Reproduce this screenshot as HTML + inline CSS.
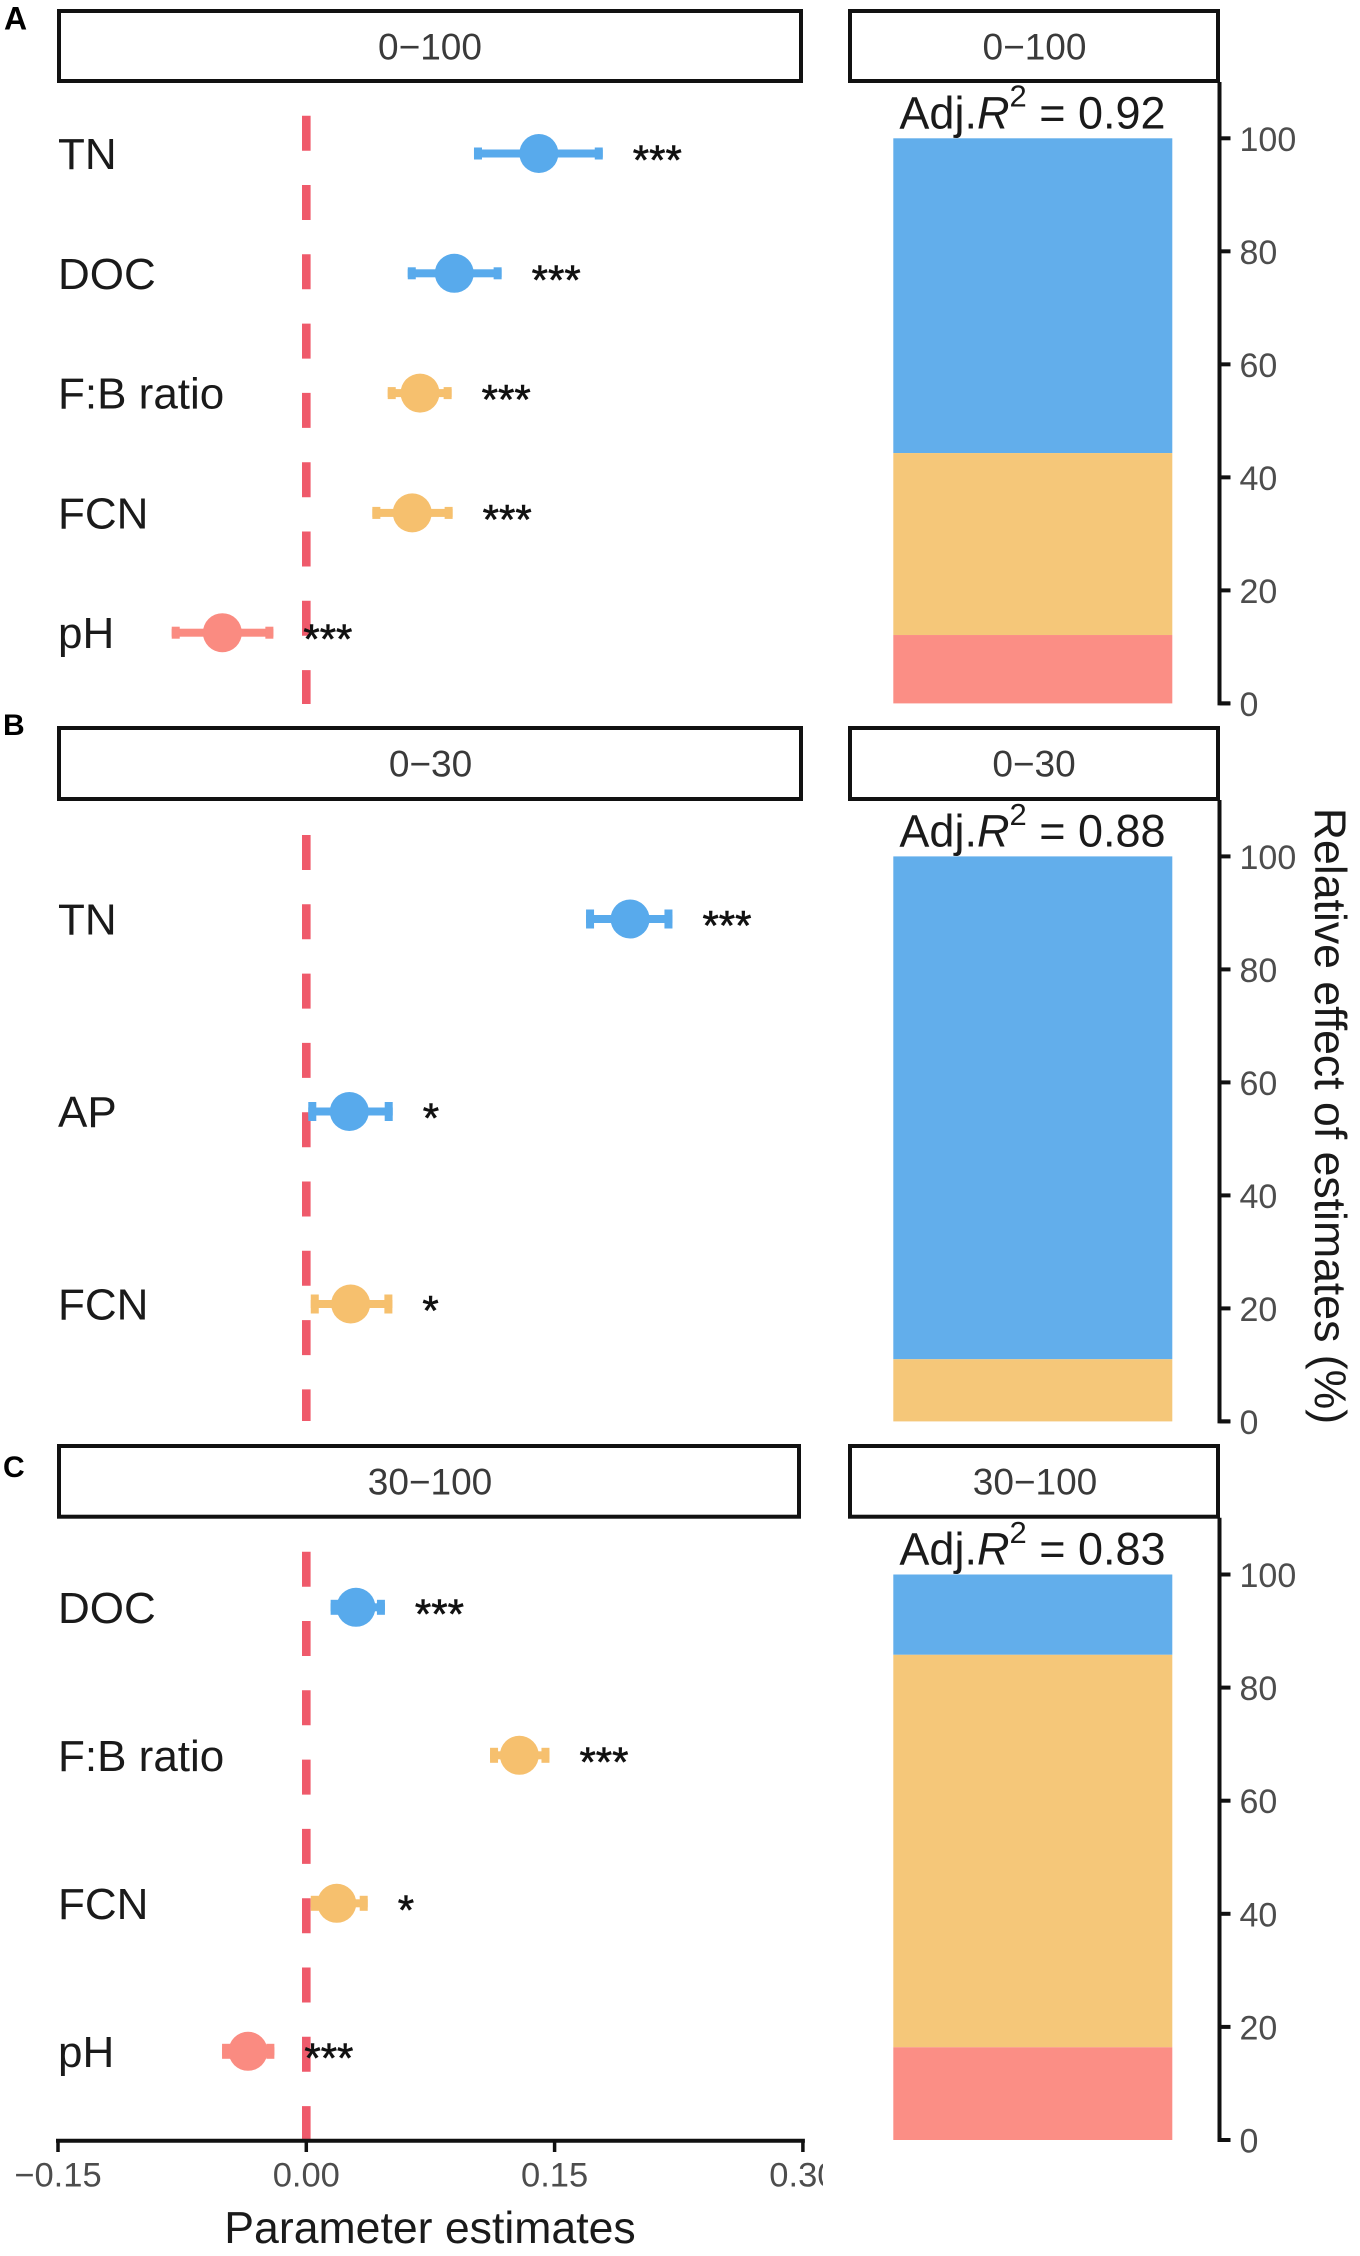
<!DOCTYPE html>
<html lang="en">
<head>
<meta charset="utf-8">
<title>Parameter estimates and relative effects by soil depth</title>
<style>
html,body{margin:0;padding:0;background:#fff;}
svg{display:block;font-family:"Liberation Sans",Arial,sans-serif;}
</style>
</head>
<body>
<svg id="chart" xmlns="http://www.w3.org/2000/svg" width="1360" height="2256" viewBox="0 0 1360 2256">
  <defs>
    <clipPath id="x-label-clip"><rect x="0" y="2140" width="823" height="116"/></clipPath>
    <clipPath id="cat-label-clip"><rect x="0" y="0" width="224" height="2256"/></clipPath>
  </defs>
  <rect x="0" y="0" width="1360" height="2256" fill="#ffffff"/>
  <text x="4" y="29.5" font-size="32" font-weight="700" fill="#000">A</text>
  <text x="3" y="735" font-size="30" font-weight="700" fill="#000">B</text>
  <text x="3" y="1477" font-size="30" font-weight="700" fill="#000">C</text>
  <text x="430" y="2243" font-size="44.6" text-anchor="middle" fill="#1a1a1a">Parameter estimates</text>
  <text transform="translate(1315 1116) rotate(90)" font-size="44.6" text-anchor="middle" fill="#1a1a1a">Relative effect of estimates (%)</text>
</svg>
<script>
// Panel A (0-100)
const panelACategories = ["TN", "DOC", "F:B ratio", "FCN", "pH"];
const panelAEstimates = [0.1405, 0.0894, 0.0687, 0.0640, -0.0507];
const panelALower = [0.1013, 0.0613, 0.0492, 0.0399, -0.0813];
const panelAUpper = [0.1791, 0.1180, 0.0878, 0.0884, -0.0199];
const panelAGroups = ["blue", "blue", "orange", "orange", "red"];
const panelASignif = ["***", "***", "***", "***", "***"];
const panelAStackGroups = ["blue", "orange", "red"];
const panelAStackValues = [55.7, 32.2, 12.1];

// Panel B (0-30)
const panelBCategories = ["TN", "AP", "FCN"];
const panelBEstimates = [0.1956, 0.0260, 0.0268];
const panelBLower = [0.1690, 0.0012, 0.0027];
const panelBUpper = [0.2212, 0.0522, 0.0520];
const panelBGroups = ["blue", "blue", "orange"];
const panelBSignif = ["***", "*", "*"];
const panelBStackGroups = ["blue", "orange"];
const panelBStackValues = [89.0, 11.0];

// Panel C (30-100)
const panelCCategories = ["DOC", "F:B ratio", "FCN", "pH"];
const panelCEstimates = [0.0300, 0.1287, 0.0184, -0.0352];
const panelCLower = [0.0147, 0.1110, 0.0027, -0.0509];
const panelCUpper = [0.0475, 0.1469, 0.0371, -0.0193];
const panelCGroups = ["blue", "orange", "orange", "red"];
const panelCSignif = ["***", "***", "*", "***"];
const panelCStackGroups = ["blue", "orange", "red"];
const panelCStackValues = [14.2, 69.4, 16.4];

// Shared axes
const xTickValues = [-0.15, 0, 0.15, 0.30];
const xTickLabels = ["\u22120.15", "0.00", "0.15", "0.30"];
const yTickValues = [0, 20, 40, 60, 80, 100];
const yTickLabels = ["0", "20", "40", "60", "80", "100"];

const NS = "http://www.w3.org/2000/svg";
const svg = document.getElementById("chart");
const pointColor = { blue: "#58aaec", orange: "#f6c06e", red: "#fa8b81" };
const barColor = { blue: "#62aeeb", orange: "#f5c779", red: "#fb8e85" };

function xScale(v) { return 306.3 + 1655.3 * v; }
function rowY(layout, i) { return layout.rowStart + layout.rowStep * i; }
function pctY(layout, p) { return layout.bar0 + (layout.bar100 - layout.bar0) * p / 100; }

function mk(tag, attrs, parent, text) {
  const el = document.createElementNS(NS, tag);
  for (const k in attrs) el.setAttribute(k, attrs[k]);
  if (text !== undefined) el.textContent = text;
  (parent || svg).appendChild(el);
  return el;
}

function drawStrip(layout, label, left, right, centre, key) {
  const box = mk("rect", { x: left, y: layout.stripTop, width: right - left, height: layout.stripBottom - layout.stripTop, fill: "#fff", stroke: "#111", "stroke-width": 4 });
  
  
  const t = mk("text", { x: centre, y: layout.stripTop + 48.5, "font-size": 37, "text-anchor": "middle", fill: "#3a3a3a" }, svg, label);
  
  
}

function drawForest(key, layout, categories, estimates, lower, upper, groups, signif) {
  const zero = mk("line", { x1: xScale(0), x2: xScale(0), y1: layout.dashTop, y2: layout.dashBottom, stroke: "#ef5a6b", "stroke-width": 8.6, "stroke-dasharray": "35 34.3" });
  
  
  categories.forEach(function (cat, i) {
    const y = rowY(layout, i);
    const color = pointColor[groups[i]];
    const label = mk("text", { x: 58, y: y + 15.5, "font-size": 44, fill: "#1a1a1a", "clip-path": "url(#cat-label-clip)" }, svg, cat);
    
    
    const bar = mk("rect", { x: xScale(lower[i]), y: y - 4, width: xScale(upper[i]) - xScale(lower[i]), height: 8, fill: color });
    
    
    const capL = mk("rect", { x: xScale(lower[i]), y: y - layout.cap / 2, width: 8, height: layout.cap, fill: color });
    
    
    const capU = mk("rect", { x: xScale(upper[i]) - 8, y: y - layout.cap / 2, width: 8, height: layout.cap, fill: color });
    
    
    const dot = mk("circle", { cx: xScale(estimates[i]), cy: y, r: 19.5, fill: color });
    
    
    const star = mk("text", { x: xScale(upper[i]) + 30, y: y + 21, "font-size": 42, fill: "#111", stroke: "#111", "stroke-width": 0.6 }, svg, signif[i]);
    
    
  });
}

function drawStack(key, layout, stackGroups, stackValues, r2) {
  let top = 100;
  stackGroups.forEach(function (g, i) {
    const bottom = top - stackValues[i];
    const seg = mk("rect", { x: 893.3, y: pctY(layout, top), width: 279, height: pctY(layout, bottom) - pctY(layout, top), fill: barColor[g] });
    
    
    top = bottom;
  });
  const axis = mk("path", { d: "M1219.5 " + (layout.stripBottom + 1) + " V" + pctY(layout, 0) + " H1230", fill: "none", stroke: "#111", "stroke-width": 4 });
  
  
  yTickValues.forEach(function (v, i) {
    const tick = mk("line", { x1: 1219.5, x2: 1230.5, y1: pctY(layout, v), y2: pctY(layout, v), stroke: "#111", "stroke-width": 4 });
    
    
    const lab = mk("text", { x: 1239.5, y: pctY(layout, v) + 12.5, "font-size": 34, fill: "#4d4d4d" }, svg, yTickLabels[i]);
    
    
  });
  const t = mk("text", { x: 1032.5, y: pctY(layout, 100) - 10, "font-size": 45, "text-anchor": "middle", fill: "#1a1a1a" });
  
  
  mk("tspan", {}, t, "Adj.");
  mk("tspan", { "font-style": "italic" }, t, "R");
  mk("tspan", { dy: -21.6, "font-size": 31 }, t, "2");
  mk("tspan", { dy: 21.6 }, t, " = " + r2);
}

const layoutA = { stripTop: 11, stripBottom: 81, dashTop: 115.7, dashBottom: 704, rowStart: 153.5, rowStep: 119.8, cap: 12, bar100: 138.3, bar0: 703.4 };
const layoutB = { stripTop: 728, stripBottom: 799, dashTop: 835, dashBottom: 1421, rowStart: 919, rowStep: 192.5, cap: 19, bar100: 856.4, bar0: 1421.4 };
const layoutC = { stripTop: 1446, stripBottom: 1516.7, dashTop: 1551.7, dashBottom: 2141, rowStart: 1607.3, rowStep: 148, cap: 15, bar100: 1574.5, bar0: 2140 };

drawStrip(layoutA, "0\u2212100", 59, 801, 430, "a-left");
drawStrip(layoutA, "0\u2212100", 850, 1218, 1034.5, "a-right");
drawStrip(layoutB, "0\u221230", 59, 801, 430.5, "b-left");
drawStrip(layoutB, "0\u221230", 850, 1218, 1034, "b-right");
drawStrip(layoutC, "30\u2212100", 59, 799, 430, "c-left");
drawStrip(layoutC, "30\u2212100", 850, 1218, 1035, "c-right");

drawForest("a", layoutA, panelACategories, panelAEstimates, panelALower, panelAUpper, panelAGroups, panelASignif);
drawForest("b", layoutB, panelBCategories, panelBEstimates, panelBLower, panelBUpper, panelBGroups, panelBSignif);
drawForest("c", layoutC, panelCCategories, panelCEstimates, panelCLower, panelCUpper, panelCGroups, panelCSignif);

drawStack("a", layoutA, panelAStackGroups, panelAStackValues, "0.92");
drawStack("b", layoutB, panelBStackGroups, panelBStackValues, "0.88");
drawStack("c", layoutC, panelCStackGroups, panelCStackValues, "0.83");

const xAxisLine = mk("line", { x1: xScale(-0.15) - 2, x2: xScale(0.30) + 2, y1: 2140.7, y2: 2140.7, stroke: "#111", "stroke-width": 4 });


xTickValues.forEach(function (v, i) {
  const tick = mk("line", { x1: xScale(v), x2: xScale(v), y1: 2140.7, y2: 2152, stroke: "#111", "stroke-width": 3.5 });
  
  
  const lab = mk("text", { x: xScale(v), y: 2186.7, "font-size": 34.5, "text-anchor": "middle", fill: "#4d4d4d", "clip-path": "url(#x-label-clip)" }, svg, xTickLabels[i]);
  
  
});
</script>
</body>
</html>
